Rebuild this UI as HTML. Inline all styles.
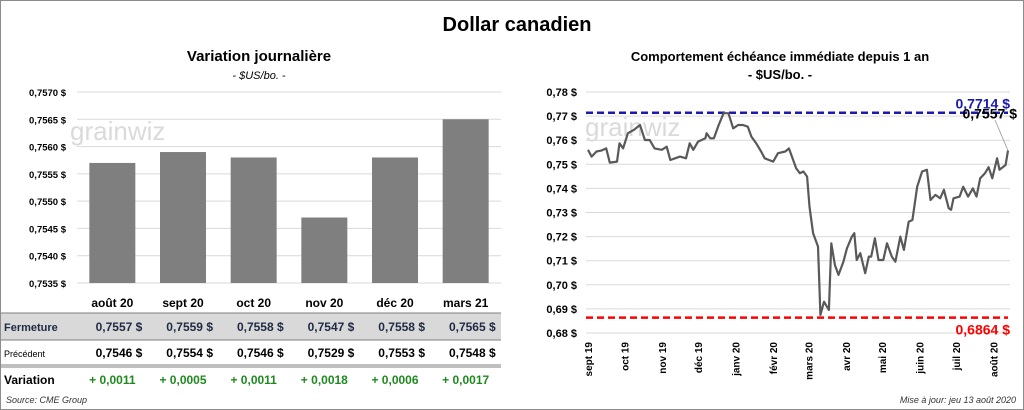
<!DOCTYPE html>
<html><head><meta charset="utf-8"><style>
body{margin:0;background:#fff;font-family:"Liberation Sans",sans-serif;}
#wrap{position:relative;width:1024px;height:410px;overflow:hidden;}
</style></head><body>
<div id="wrap">
<svg id="svg" width="1024" height="410" xmlns="http://www.w3.org/2000/svg" font-family="Liberation Sans, sans-serif">
<rect x="0.5" y="0.5" width="1023" height="409" fill="#fff" stroke="#8c8c8c"/>
<text x="517" y="31" font-size="20" font-weight="bold" text-anchor="middle">Dollar canadien</text>
<text x="259" y="61" font-size="15" font-weight="bold" text-anchor="middle">Variation  journalière</text>
<text x="259" y="79" font-size="11" font-style="italic" text-anchor="middle">- $US/bo. -</text>
<text x="780" y="61" font-size="13" font-weight="bold" text-anchor="middle">Comportement échéance immédiate depuis 1 an</text>
<text x="780" y="79" font-size="13" font-weight="bold" text-anchor="middle">- $US/bo. -</text>
<g id="left"></g>
<g id="table"></g>
<g id="right"></g>
<text x="6" y="403" font-size="9" font-style="italic" fill="#333">Source: CME Group</text>
<text x="1016" y="403" font-size="9" font-style="italic" fill="#333" text-anchor="end">Mise à jour: jeu 13 août 2020</text>
</svg>
</div>
<script>
const barCats=["août 20","sept 20","oct 20","nov 20","déc 20","mars 21"];
const closeVals=[0.7557,0.7559,0.7558,0.7547,0.7558,0.7565];
const prevVals=[0.7546,0.7554,0.7546,0.7529,0.7553,0.7548];
const varLabels=["+ 0,0011","+ 0,0005","+ 0,0011","+ 0,0018","+ 0,0006","+ 0,0017"];
const leftTicks=[0.7535,0.7540,0.7545,0.7550,0.7555,0.7560,0.7565,0.7570];

const days=[0,3,7,11,15,18,24,26,29,33,38,43,47,51,55,61,65,68,72,76,81,84,87,91,97,98,101,104,108,112,116,120,124,128,132,135,139,143,146,153,157,163,166,168,172,175,178,181,183,186,190,191,192,195,199,201,204,207,211,214,218,220,222,225,229,232,234,237,240,244,247,251,254,258,261,265,268,272,276,280,283,287,291,294,298,300,302,307,310,314,318,321,324,328,331,334,338,340,345,347];
const prices=[0.7560,0.7532,0.7553,0.7557,0.7566,0.7507,0.7511,0.7587,0.7566,0.7629,0.7643,0.7663,0.7601,0.7601,0.7566,0.7560,0.7573,0.7518,0.7525,0.7532,0.7525,0.7587,0.7560,0.7594,0.7608,0.7629,0.7608,0.7608,0.7663,0.7712,0.7712,0.7649,0.7663,0.7663,0.7656,0.7615,0.7587,0.7553,0.7525,0.7511,0.7546,0.7553,0.7566,0.7539,0.7483,0.7463,0.7470,0.7449,0.7324,0.7214,0.7159,0.7020,0.6875,0.6930,0.6896,0.7172,0.7082,0.7041,0.7096,0.7152,0.7200,0.7214,0.7103,0.7131,0.7048,0.7117,0.7117,0.7193,0.7103,0.7103,0.7172,0.7117,0.7096,0.7200,0.7145,0.7262,0.7269,0.7407,0.7470,0.7477,0.7352,0.7373,0.7359,0.7394,0.7318,0.7311,0.7359,0.7366,0.7407,0.7366,0.7400,0.7366,0.7442,0.7463,0.7488,0.7442,0.7525,0.7477,0.7497,0.7557];
const rightTicks=[0.68,0.69,0.70,0.71,0.72,0.73,0.74,0.75,0.76,0.77,0.78];
const monthLabels=["sept 19","oct 19","nov 19","déc 19","janv 20","févr 20","mars 20","avr 20","mai 20","juin 20","juil 20","août 20"];
const monthDays=[0,30,61,91,122,153,182,213,243,274,304,335];
const maxVal=0.7714, minVal=0.6864, lastVal=0.7557;

const NS="http://www.w3.org/2000/svg";
function mk(parent,tag,attrs,text){const e=document.createElementNS(NS,tag);for(const k in attrs)e.setAttribute(k,attrs[k]);if(text!==undefined)e.textContent=text;parent.appendChild(e);return e;}
const fmt4=v=>v.toFixed(4).replace('.',',');
const fmt2=v=>v.toFixed(2).replace('.',',');

// LEFT CHART
const L=document.getElementById('left');
const lx0=77,lx1=501,ly0=283,ly1=92,lmin=0.7535,lmax=0.7570;
const ly=v=>ly0-(v-lmin)/(lmax-lmin)*(ly0-ly1);
const bw=(lx1-lx0)/barCats.length;
leftTicks.forEach(t=>{
  const g=mk(L,'line',{x1:lx0,x2:lx1,y1:ly(t),y2:ly(t),stroke:'#d9d9d9','stroke-width':1});
  
  
  const tx=mk(L,'text',{x:66,y:ly(t)+4,'font-size':9.5,'font-weight':'bold','text-anchor':'end'},fmt4(t)+' $');
  
  
});
const wm1=mk(L,'text',{x:70,y:140,'font-size':26,fill:'#dadada'},'grainwiz');


closeVals.forEach((v,i)=>{
  const cx=lx0+bw*(i+0.5);
  const r=mk(L,'rect',{x:cx-23,y:ly(v),width:46,height:ly0-ly(v),fill:'#7f7f7f'});
  
  
});

// TABLE
const T=document.getElementById('table');
const bg=mk(T,'rect',{x:1,y:313,width:500,height:27,fill:'#d9d9d9'});


[[1,313,1],[1,340,1],[1,365,1],[1,367,1]].forEach(l=>{
  const ln=mk(T,'line',{x1:1,x2:501,y1:l[1],y2:l[1],stroke:'#7f7f7f','stroke-width':l[2]});
  
  
});
const lbl=[["Fermeture",331,11,'bold','#1f2a44'],["Précédent",357,9,'normal','#000'],["Variation",384,12,'bold','#000']];
lbl.forEach(a=>{const t=mk(T,'text',{x:4,y:a[1],'font-size':a[2],'font-weight':a[3],fill:a[4]},a[0]);
  
  });
barCats.forEach((c,i)=>{
  const cx=lx0+bw*(i+0.5);
  const h=mk(T,'text',{x:cx,y:307,'font-size':12,'font-weight':'bold','text-anchor':'middle'},c);
  
  
  const a=mk(T,'text',{x:cx+30,y:331,'font-size':12,'font-weight':'bold','text-anchor':'end',fill:'#1f2a44','xml:space':'preserve'},fmt4(closeVals[i])+'  $');
  
  
  const b=mk(T,'text',{x:cx+30,y:357,'font-size':12,'font-weight':'bold','text-anchor':'end','xml:space':'preserve'},fmt4(prevVals[i])+'  $');
  
  
  const d=mk(T,'text',{x:cx,y:384,'font-size':12,'font-weight':'bold','text-anchor':'middle',fill:'#1e8a1e'},varLabels[i]);
  
  
});

// RIGHT CHART
const R=document.getElementById('right');
const rx0=588,rx1=1008,ry0=333,ry1=92,rmin=0.68,rmax=0.78,dmax=347;
const rx=d=>rx0+d/dmax*(rx1-rx0);
const ry=v=>ry0-(v-rmin)/(rmax-rmin)*(ry0-ry1);
rightTicks.forEach(t=>{
  const g=mk(R,'line',{x1:rx0-2,x2:rx1+2,y1:ry(t),y2:ry(t),stroke:'#d9d9d9','stroke-width':1});
  
  
  const tx=mk(R,'text',{x:577,y:ry(t)+4,'font-size':11,'font-weight':'bold','text-anchor':'end'},fmt2(t)+' $');
  
  
});
const wm2=mk(R,'text',{x:585,y:136,'font-size':26,fill:'#dadada'},'grainwiz');


monthLabels.forEach((m,i)=>{
  const x=rx(monthDays[i])+4;
  const t=mk(R,'text',{x:x,y:342,'font-size':10,'font-weight':'bold','text-anchor':'end',transform:`rotate(-90 ${x} 342)`},m);
  
  
});
const mxl=mk(R,'line',{x1:rx0-2,x2:rx1,y1:ry(maxVal),y2:ry(maxVal),stroke:'#1a1ab0','stroke-width':2.5,'stroke-dasharray':'7,4'});


const mnl=mk(R,'line',{x1:rx0-2,x2:rx1,y1:ry(minVal),y2:ry(minVal),stroke:'#ff0000','stroke-width':2.5,'stroke-dasharray':'7,4'});


const pts=days.map((d,i)=>rx(d).toFixed(1)+','+ry(prices[i]).toFixed(1)).join(' ');
const pl=mk(R,'polyline',{points:pts,fill:'none',stroke:'#595959','stroke-width':2.2,'stroke-linejoin':'round'});


const ldr=mk(R,'line',{x1:rx(days[days.length-1]),y1:ry(lastVal),x2:995,y2:120,stroke:'#999','stroke-width':0.8});


const mxt=mk(R,'text',{x:1010,y:ry(maxVal)-4,'font-size':14,'font-weight':'bold',fill:'#1a1ab0','text-anchor':'end'},fmt4(maxVal)+' $');


const lt=mk(R,'text',{x:1017,y:ry(maxVal)+6,'font-size':14,'font-weight':'bold',fill:'#000','text-anchor':'end'},fmt4(lastVal)+' $');


const mnt=mk(R,'text',{x:1010,y:ry(minVal)+17,'font-size':14,'font-weight':'bold',fill:'#ff0000','text-anchor':'end'},fmt4(minVal)+' $');


</script>
</body></html>
